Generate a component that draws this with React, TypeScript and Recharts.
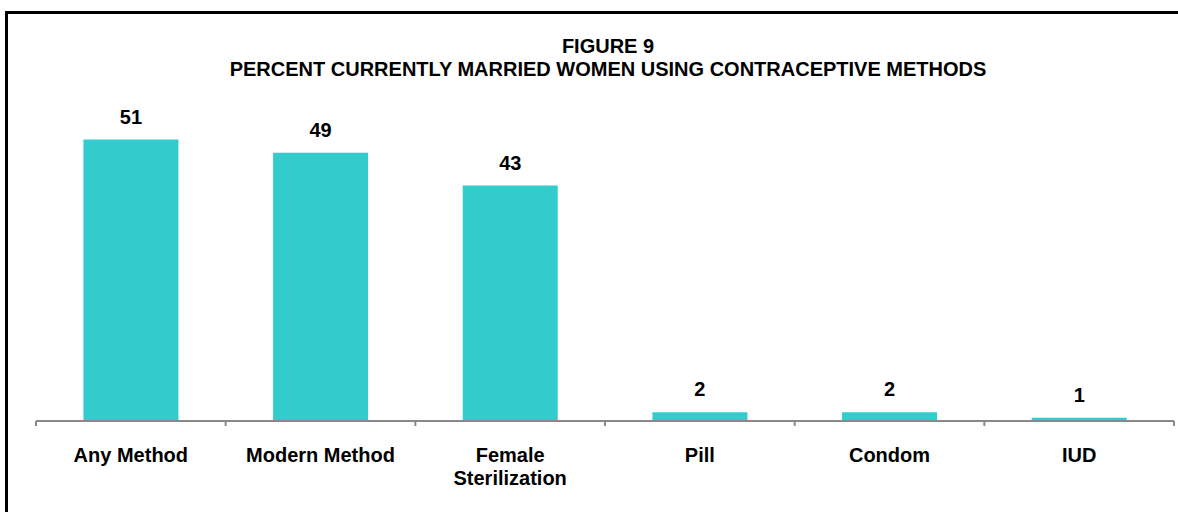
import React from "react";
import { BarChart, Bar, XAxis, YAxis, LabelList } from "recharts";

// ---- data ----
const categories = ["Any Method", "Modern Method", "Female\nSterilization", "Pill", "Condom", "IUD"];
const percentValues = [51.4, 49.0, 43.0, 1.6, 1.6, 0.6];
const titleLines = ["FIGURE 9", "PERCENT CURRENTLY MARRIED WOMEN USING CONTRACEPTIVE METHODS"];
const boundaryTicks = [0, 1, 2, 3, 4, 5, 6];
const yDomain: [number, number] = [0, 60];

// ---- layout ----
const W = 1178;
const H = 512;
const PLOT_LEFT = 36;
const PLOT_RIGHT = 1174;
const AXIS_Y = 421;
const AXIS_HEIGHT = 60;
const FONT = "'Liberation Sans', Arial, Helvetica, sans-serif";
const BAR_COLOR = "#33CCCC";
const AXIS_COLOR = "#898989";

const data = categories.map((name, i) => ({ name, idx: i, value: percentValues[i] }));

const CategoryTick = (props: any) => {
  const { x, y, payload } = props;
  const i = payload.value;
  if (i < 0 || i >= categories.length) return <g />;
  const band = (PLOT_RIGHT - PLOT_LEFT) / categories.length;
  const cx = x + band / 2;
  const lines = categories[i].split("\n");
  return (
    <text x={cx} y={y} textAnchor="middle" fontFamily={FONT} fontWeight="bold" fontSize={20} fill="#000">
      {lines.map((l, k) => (
        <tspan key={k} x={cx} dy={k === 0 ? 36 : 22.5}>
          {l}
        </tspan>
      ))}
    </text>
  );
};

export default function App() {
  return (
    <div
      style={{
        position: "absolute",
        left: 0,
        top: 0,
        width: W,
        height: H,
        overflow: "hidden",
        background: "#fff",
      }}
    >
      <svg width={W} height={H} style={{ position: "absolute", left: 0, top: 0 }}>
        <rect x={6.5} y={12.5} width={W + 100} height={H + 100} fill="none" stroke="#000" strokeWidth={3} />
        {titleLines.map((t, k) => (
          <text
            key={k}
            x={608}
            y={53 + k * 23}
            textAnchor="middle"
            fontFamily={FONT}
            fontWeight="bold"
            fontSize={20}
            fill="#000"
          >
            {t}
          </text>
        ))}
      </svg>
      <div style={{ position: "absolute", left: 0, top: 0 }}>
        <BarChart
          width={W}
          height={H}
          data={data}
          margin={{ top: 92.5, right: W - PLOT_RIGHT, bottom: H - AXIS_Y - AXIS_HEIGHT, left: PLOT_LEFT }}
          barCategoryGap="25%"
        >
          <XAxis xAxisId="cat" dataKey="name" hide height={0} />
          <XAxis
            xAxisId="num"
            type="number"
            dataKey="idx"
            domain={[0, 6]}
            allowDataOverflow
            ticks={boundaryTicks}
            interval={0}
            height={AXIS_HEIGHT}
            stroke={AXIS_COLOR}
            axisLine={{ stroke: AXIS_COLOR, strokeWidth: 2 }}
            tickLine={{ stroke: AXIS_COLOR, strokeWidth: 2 }}
            tickSize={5}
            tickMargin={0}
            tick={<CategoryTick />}
          />
          <YAxis domain={yDomain} hide width={0} />
          <Bar xAxisId="cat" dataKey="value" fill={BAR_COLOR} isAnimationActive={false}>
            <LabelList
              dataKey="value"
              position="top"
              offset={16}
              formatter={(v: any) => Math.round(Number(v))}
              fill="#000"
              fontFamily={FONT}
              fontWeight="bold"
              fontSize={20}
            />
          </Bar>
        </BarChart>
      </div>
    </div>
  );
}
